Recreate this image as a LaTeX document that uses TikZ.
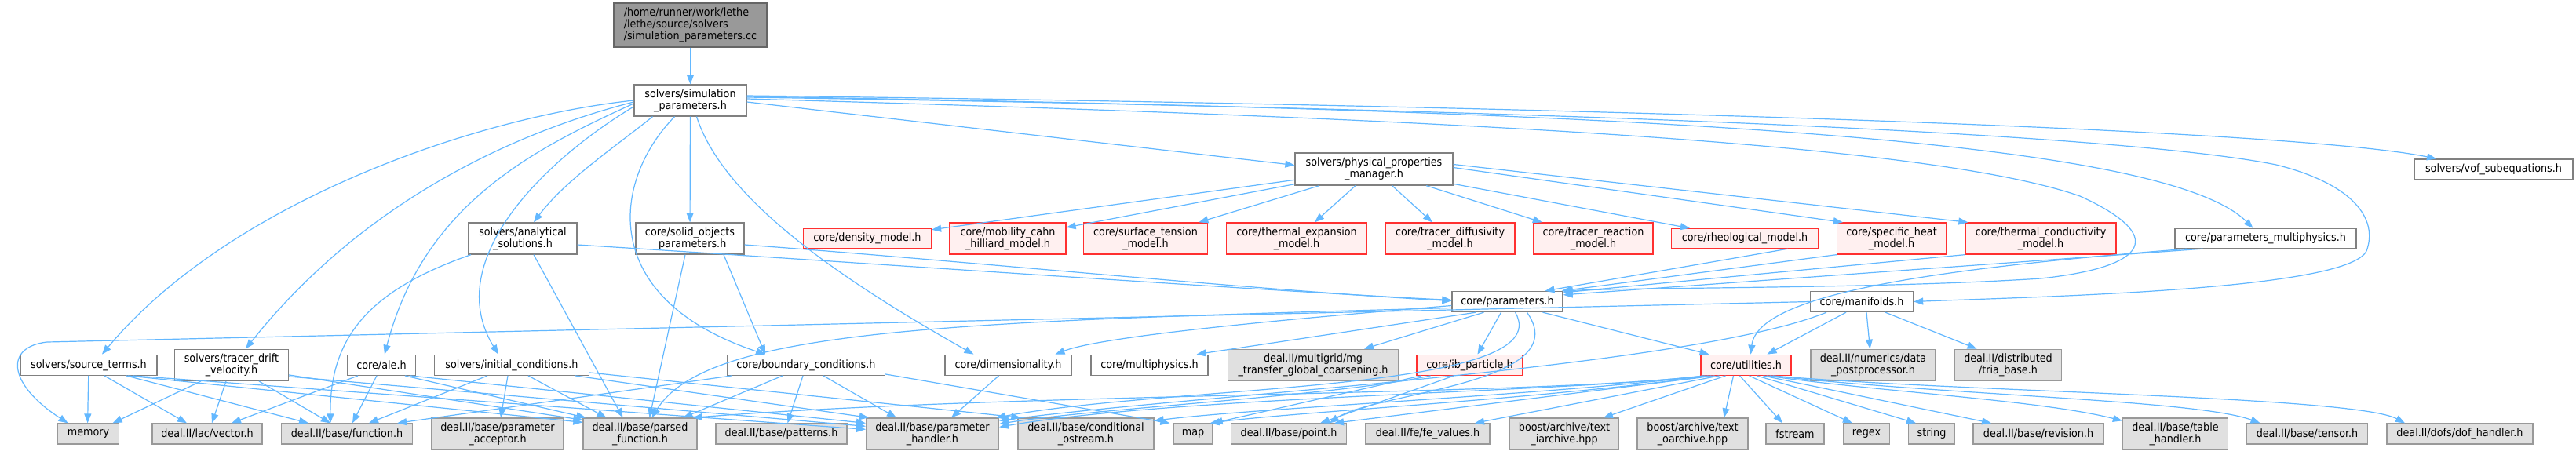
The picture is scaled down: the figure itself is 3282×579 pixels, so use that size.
\documentclass[tikz,border=0pt]{standalone}
\usepackage{fontspec}
\setmainfont{DejaVu Sans Condensed}
\usetikzlibrary{arrows.meta}
\definecolor{edgec}{HTML}{63B8FF}
\definecolor{redb}{HTML}{FF3030}
\definecolor{redf}{HTML}{FFF0F0}
\definecolor{grayf}{HTML}{E0E0E0}
\definecolor{grayb}{HTML}{999999}
\definecolor{plainb}{HTML}{808080}
\definecolor{rootf}{HTML}{999999}
\definecolor{rootb}{HTML}{666666}
\begin{document}
\begin{tikzpicture}[x=1pt,y=-1pt,
  every node/.style={font=\fontsize{14.2}{15}\selectfont, align=center, inner sep=0pt, line width=1.3pt},
  plainbox/.style={draw=plainb, fill=white},
  redbox/.style={draw=redb, fill=redf},
  extbox/.style={draw=grayb, fill=grayf},
  rootbox/.style={draw=rootb, fill=rootf, align=left},
  sz/.style 2 args={minimum width=#1pt, minimum height=#2pt},
  dep/.style={draw=edgec, line width=1.2pt, -{Triangle[length=12pt,width=9pt]}},
]
\useasboundingbox (0,0) rectangle (3282,579);
\fill[white] (0,0) rectangle (3282,579);
% ---- nodes ----
\node[rootbox, sz={195}{56}] (root) at (879.5,32) {/home/runner/work/lethe\\/lethe/source/solvers\\/simulation\_parameters.cc};
\node[plainbox, sz={143}{40}] (simparam) at (879.5,128) {solvers/simulation\\\_parameters.h};
\node[plainbox, sz={201}{41}] (physprop) at (1750.5,215.5) {solvers/physical\_properties\\\_manager.h};
\node[plainbox, sz={202}{26}] (vof) at (3177,216) {solvers/vof\_subequations.h};
% row 2
\node[plainbox, sz={138}{40}] (analytical) at (666,304) {solvers/analytical\\\_solutions.h};
\node[plainbox, sz={138}{40}] (solid) at (879,304) {core/solid\_objects\\\_parameters.h};
\node[redbox, sz={163}{25}] (density) at (1105,304) {core/density\_model.h};
\node[redbox, sz={148}{40}] (mobility) at (1284,304) {core/mobility\_cahn\\\_hilliard\_model.h};
\node[redbox, sz={158}{40}] (surface) at (1459.5,304) {core/surface\_tension\\\_model.h};
\node[redbox, sz={179}{40}] (thermexp) at (1652,304) {core/thermal\_expansion\\\_model.h};
\node[redbox, sz={165}{40}] (tracerdiff) at (1847.5,304) {core/tracer\_diffusivity\\\_model.h};
\node[redbox, sz={152}{40}] (tracerreact) at (2030,304) {core/tracer\_reaction\\\_model.h};
\node[redbox, sz={187}{25}] (rheo) at (2223,304) {core/rheological\_model.h};
\node[redbox, sz={139}{40}] (specheat) at (2410,304) {core/specific\_heat\\\_model.h};
\node[redbox, sz={192}{40}] (thermcond) at (2600,304) {core/thermal\_conductivity\\\_model.h};
\node[plainbox, sz={231}{25}] (parmulti) at (2886.5,304) {core/parameters\_multiphysics.h};
% row 3
\node[plainbox, sz={141}{26}] (params) at (1920.5,384.5) {core/parameters.h};
\node[plainbox, sz={131}{26}] (manifolds) at (2372,384.5) {core/manifolds.h};
% row 4
\node[plainbox, sz={174}{26}] (source) at (113,465.3) {solvers/source\_terms.h};
\node[plainbox, sz={145}{40}] (tracerdrift) at (295,465.3) {solvers/tracer\_drift\\\_velocity.h};
\node[plainbox, sz={87}{26}] (ale) at (486,465.3) {core/ale.h};
\node[plainbox, sz={197}{26}] (initcond) at (652,465.3) {solvers/initial\_conditions.h};
\node[plainbox, sz={201}{26}] (bc) at (1027,465.3) {core/boundary\_conditions.h};
\node[plainbox, sz={161}{26}] (dim) at (1284.5,465.3) {core/dimensionality.h};
\node[plainbox, sz={149}{26}] (multiph) at (1464.5,465.3) {core/multiphysics.h};
\node[extbox, sz={217}{40}] (multigrid) at (1673,465.3) {deal.II/multigrid/mg\\\_transfer\_global\_coarsening.h};
\node[redbox, sz={135}{26}] (ibp) at (1872.5,465.3) {core/ib\_particle.h};
\node[redbox, sz={115}{26}] (util) at (2224.5,465.3) {core/utilities.h};
\node[extbox, sz={159}{40}] (datapp) at (2386.5,465.3) {deal.II/numerics/data\\\_postprocessor.h};
\node[extbox, sz={136}{40}] (tria) at (2558.5,465.3) {deal.II/distributed\\/tria\_base.h};
% row 5
\node[extbox, sz={78}{26}] (memory) at (112.6,553) {memory};
\node[extbox, sz={140}{26}] (vector) at (264,553) {deal.II/lac/vector.h};
\node[extbox, sz={167}{26}] (function) at (442,553) {deal.II/base/function.h};
\node[extbox, sz={168}{40}] (pacceptor) at (634,553) {deal.II/base/parameter\\\_acceptor.h};
\node[extbox, sz={145}{40}] (parsed) at (815.5,553) {deal.II/base/parsed\\\_function.h};
\node[extbox, sz={167}{26}] (patterns) at (995.5,553) {deal.II/base/patterns.h};
\node[extbox, sz={169}{40}] (phandler) at (1188,553) {deal.II/base/parameter\\\_handler.h};
\node[extbox, sz={173}{40}] (condostream) at (1383.5,553) {deal.II/base/conditional\\\_ostream.h};
\node[extbox, sz={50}{26}] (map) at (1520,553) {map};
\node[extbox, sz={147}{26}] (point) at (1642,553) {deal.II/base/point.h};
\node[extbox, sz={158}{26}] (fevalues) at (1819,553) {deal.II/fe/fe\_values.h};
\node[extbox, sz={139}{40}] (iarch) at (1993,553) {boost/archive/text\\\_iarchive.hpp};
\node[extbox, sz={141}{40}] (oarch) at (2156.5,553) {boost/archive/text\\\_oarchive.hpp};
\node[extbox, sz={74}{26}] (fstream) at (2287,553) {fstream};
\node[extbox, sz={59}{26}] (regex) at (2378,553) {regex};
\node[extbox, sz={59}{26}] (string) at (2461,553) {string};
\node[extbox, sz={166}{26}] (revision) at (2597,553) {deal.II/base/revision.h};
\node[extbox, sz={134}{40}] (table) at (2771.5,553) {deal.II/base/table\\\_handler.h};
\node[extbox, sz={154}{26}] (tensor) at (2939.5,553) {deal.II/base/tensor.h};
\node[extbox, sz={186}{26}] (dofh) at (3134,553) {deal.II/dofs/dof\_handler.h};
% ---- edges ----
\draw[dep] (root) -- (simparam);
% simulation_parameters.h
\draw[dep] (simparam.west) .. controls (600,150) and (290,260) .. ([xshift=17pt]source.north);
\draw[dep] ([yshift=-2pt]simparam.west) .. controls (650,170) and (460,260) .. ([xshift=18pt]tracerdrift.north);
\draw[dep] ([yshift=-4pt]simparam.west) .. controls (680,190) and (540,260) .. ([xshift=4pt]ale.north);
\draw[dep] ([yshift=-8pt]simparam.west) .. controls (700,200) and (560,330) .. ([xshift=-17pt]initcond.north);
\draw[dep] ([xshift=-48pt]simparam.south) .. controls (780,190) and (720,230) .. ([xshift=14pt]analytical.north);
\draw[dep] (simparam) -- (solid);
\draw[dep] ([xshift=-20pt]simparam.south) .. controls (780,230) and (760,380) .. ([xshift=-52pt]bc.north);
\draw[dep] ([xshift=8pt]simparam.south) .. controls (920,250) and (1060,350) .. ([xshift=-44pt]dim.north);
\draw[dep] ([yshift=-2pt]simparam.east) -- ([yshift=5pt]physprop.west);
\draw[dep] ([yshift=6pt]simparam.east) .. controls (1800,132) and (2900,160) .. ([xshift=-73pt]vof.north);
\draw[dep] ([yshift=5pt]simparam.east) .. controls (2000,140) and (2750,170) .. ([xshift=-16pt]parmulti.north);
\draw[dep] ([yshift=4pt]simparam.east) .. controls (2000,140) and (2700,170) .. (2900,210) .. controls (3000,235) and (3030,280) .. (3015,320) .. controls (2990,370) and (2600,378) .. (manifolds.east);
\draw[dep] ([yshift=2pt]simparam.east) .. controls (1800,150) and (2450,180) .. (2650,250) .. controls (2760,300) and (2740,340) .. (2600,355) .. controls (2400,368) and (2100,366) .. (params.north east);
% physical properties manager
\draw[dep] (physprop) -- (density);
\draw[dep] (physprop) -- (mobility);
\draw[dep] (physprop) -- (surface);
\draw[dep] (physprop) -- (thermexp);
\draw[dep] (physprop) -- (tracerdiff);
\draw[dep] (physprop) -- (tracerreact);
\draw[dep] (physprop) -- (rheo);
\draw[dep] ([yshift=2pt]physprop.east) -- ([xshift=8pt]specheat.north west);
\draw[dep] ([yshift=6pt]physprop.east) -- ([xshift=4pt]thermcond.north west);
% into parameters.h
\draw[dep] ([yshift=-8pt]analytical.east) .. controls (1100,335) and (1600,370) .. ([yshift=2pt]params.west);
\draw[dep] ([yshift=-8pt]solid.east) .. controls (1200,330) and (1600,370) .. ([yshift=1pt]params.west);
\draw[dep] ([xshift=55pt]rheo.south) -- ([xshift=48pt]params.north);
\draw[dep] (specheat.south west) -- ([xshift=-2pt]params.north east);
\draw[dep] (thermcond.south west) -- ([yshift=-2pt]params.north east);
\draw[dep] ([xshift=-80pt]parmulti.south) -- ([yshift=-5pt]params.north east);
% parameters.h out
\draw[dep] ([yshift=-5pt]params.west) .. controls (1600,410) and (1400,430) .. ([xshift=60pt]dim.north);
\draw[dep] ([xshift=-40pt]params.south) -- ([xshift=60pt]multiph.north);
\draw[dep] ([xshift=-30pt]params.south) -- ([xshift=65pt]multigrid.north);
\draw[dep] ([xshift=-8pt]params.south) -- ([xshift=10pt]ibp.north);
\draw[dep] ([xshift=45pt]params.south) -- ([xshift=-47pt]util.north);
\draw[dep] ([yshift=-8pt]params.west) .. controls (1200,410) and (900,420) .. ([xshift=15pt]parsed.north);
\draw[dep] ([xshift=10pt]params.south) .. controls (1990,500) and (1500,490) .. ([xshift=-4pt]phandler.north east);
\draw[dep] ([xshift=25pt]params.south) .. controls (2010,490) and (1750,500) .. ([xshift=52pt]point.north);
% manifolds
\draw[dep] (manifolds.west) -- (60,436) .. controls (5,442) and (10,490) .. ([xshift=-26pt]memory.north);
\draw[dep] ([xshift=-45pt]manifolds.south) .. controls (2150,470) and (1500,505) .. ([yshift=-4pt]phandler.north east);
\draw[dep] ([xshift=-20pt]manifolds.south) -- ([xshift=27pt]util.north);
\draw[dep] ([xshift=6pt]manifolds.south) -- ([xshift=-4pt]datapp.north);
\draw[dep] ([xshift=30pt]manifolds.south) -- ([xshift=-40pt]tria.north);
% parameters_multiphysics
\draw[dep] ([xshift=-100pt]parmulti.south) .. controls (2500,340) and (2240,370) .. ([xshift=6pt]util.north);
% ib_particle
\draw[dep] ([xshift=-50pt]ibp.south) .. controls (1700,505) and (1400,520) .. ([yshift=-8pt]phandler.north east);
\draw[dep] ([xshift=-20pt]ibp.south) -- ([xshift=40pt]point.north);
\draw[dep] ([xshift=-62pt]ibp.south) -- (map.north east);
% dimensionality
\draw[dep] ([xshift=-12pt]dim.south) -- ([xshift=24pt]phandler.north);
% boundary conditions
\draw[dep] ([xshift=6pt]bc.south west) -- ([xshift=-20pt]function.north east);
\draw[dep] ([xshift=-30pt]bc.south) -- ([xshift=55pt]parsed.north);
\draw[dep] ([xshift=-4pt]bc.south) -- ([xshift=8pt]patterns.north);
\draw[dep] ([xshift=22pt]bc.south) -- ([xshift=-46pt]phandler.north);
\draw[dep] ([yshift=2pt]bc.south east) -- ([xshift=-4pt]map.north west);
% initial conditions
\draw[dep] ([xshift=-31pt]initcond.south) -- ([xshift=28pt]function.north);
\draw[dep] ([xshift=-5pt]initcond.south) -- ([xshift=4pt]pacceptor.north);
\draw[dep] ([xshift=21pt]initcond.south) -- ([xshift=-43pt]parsed.north);
\draw[dep] ([xshift=81pt]initcond.south) -- ([xshift=4pt]phandler.north west);
\draw[dep] ([yshift=4pt]initcond.south east) -- ([xshift=4pt]condostream.north west);
% ale
\draw[dep] ([xshift=-30pt]ale.south) -- ([xshift=31pt]vector.north);
\draw[dep] ([xshift=-6pt]ale.south) -- ([xshift=7pt]function.north);
\draw[dep] ([xshift=30pt]ale.south) -- ([xshift=4pt]parsed.north west);
\draw[dep] ([xshift=37pt]ale.south) -- ([yshift=-7pt]phandler.north west);
% tracer drift
\draw[dep] ([xshift=-39pt]tracerdrift.south) -- ([xshift=31pt]memory.north);
\draw[dep] ([xshift=-7pt]tracerdrift.south) -- ([xshift=6pt]vector.north);
\draw[dep] ([xshift=35pt]tracerdrift.south) -- ([xshift=-21pt]function.north);
\draw[dep] ([yshift=8pt]tracerdrift.south east) -- ([yshift=-3pt]parsed.north west);
\draw[dep] ([yshift=6pt]tracerdrift.south east) -- ([yshift=-11pt]phandler.north west);
% source terms
\draw[dep] (source) -- ([xshift=-1pt]memory.north);
\draw[dep] ([xshift=20pt]source.south) -- ([xshift=-26pt]vector.north);
\draw[dep] ([xshift=48pt]source.south) -- ([xshift=-49pt]function.north);
\draw[dep] ([xshift=50pt]source.south) -- ([yshift=-6pt]parsed.north west);
\draw[dep] ([xshift=56pt]source.south) -- ([yshift=-15pt]phandler.north west);
% analytical / solid
\draw[dep] ([xshift=-66pt]analytical.south) .. controls (470,370) and (420,430) .. ([xshift=-21pt]function.north);
\draw[dep] ([xshift=14pt]analytical.south) -- ([xshift=-22pt]parsed.north);
\draw[dep] ([xshift=-6pt]solid.south) -- ([xshift=12pt]parsed.north);
\draw[dep] ([xshift=43pt]solid.south) -- ([xshift=-52pt]bc.north);
% utilities
\draw[dep] ([xshift=-54pt]util.south) .. controls (2000,500) and (1500,505) .. ([yshift=-12pt]phandler.north east);
\draw[dep] ([xshift=-52pt]util.south) .. controls (1950,505) and (1300,500) .. ([xshift=-6pt]parsed.north east);
\draw[dep] ([xshift=-48pt]util.south) .. controls (1950,505) and (1600,520) .. ([yshift=-4pt]condostream.north east);
\draw[dep] ([xshift=-44pt]util.south) .. controls (1950,510) and (1650,525) .. ([xshift=-4pt]map.north east);
\draw[dep] ([xshift=-40pt]util.south) -- ([xshift=58pt]point.north);
\draw[dep] ([xshift=-34pt]util.south) -- ([xshift=60pt]fevalues.north);
\draw[dep] ([xshift=-26pt]util.south) -- ([xshift=50pt]iarch.north);
\draw[dep] ([xshift=-16pt]util.south) -- ([xshift=40pt]oarch.north);
\draw[dep] ([xshift=-8pt]util.south) -- ([xshift=-16pt]fstream.north);
\draw[dep] ([xshift=4pt]util.south) -- ([xshift=-18pt]regex.north);
\draw[dep] ([xshift=14pt]util.south) -- ([xshift=-20pt]string.north);
\draw[dep] ([xshift=22pt]util.south) -- ([xshift=-60pt]revision.north);
\draw[dep] ([xshift=26pt]util.south) .. controls (2400,500) and (2600,510) .. ([yshift=-4pt]table.north west);
\draw[dep] ([xshift=30pt]util.south) .. controls (2500,505) and (2800,510) .. ([xshift=-60pt]tensor.north);
\draw[dep] ([xshift=34pt]util.south) .. controls (2500,500) and (3000,505) .. ([xshift=-70pt]dofh.north);
\end{tikzpicture}
\end{document}
